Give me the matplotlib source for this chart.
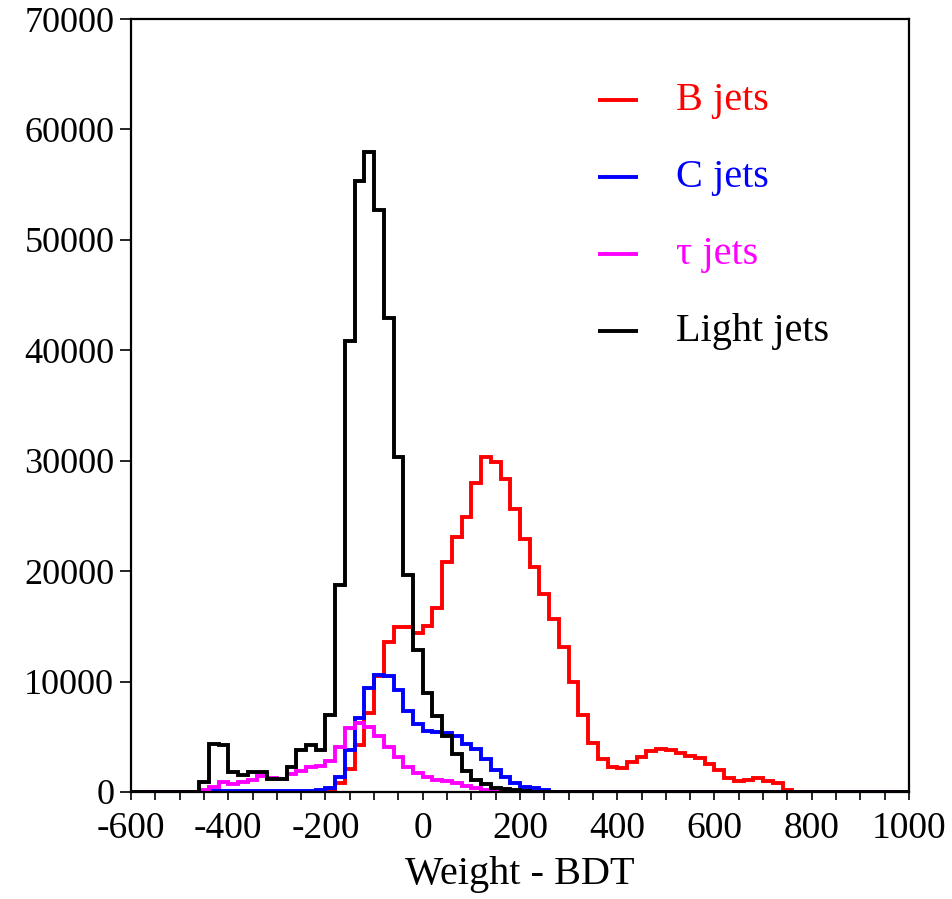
import numpy as np
import matplotlib
matplotlib.use("Agg")
import matplotlib.pyplot as plt
from matplotlib.ticker import MultipleLocator

# BDT weight histogram: 80 bins of width 20 between -600 and 1000
bin_edges = np.linspace(-600, 1000, 81)

b_jets = [
    0, 0, 0, 0, 0, 0, 0, 0, 0, 0,
    0, 0, 0, 0, 0, 0, 0, 0, 0, 0,
    120, 800, 2100, 4230, 7190, 10500, 13610, 14970, 14970, 14400,
    15000, 16700, 20800, 23120, 24870, 28010, 30300, 29880, 28310, 25600,
    22880, 20400, 17930, 15640, 13100, 9920, 6960, 4400, 3000, 2260,
    2200, 2690, 3140, 3740, 3890, 3800, 3500, 3260, 3050, 2510,
    1990, 1300, 1020, 1090, 1240, 1020, 790, 200, 0, 0,
    0, 0, 0, 0, 0, 0, 0, 0, 0, 0,
]

c_jets = [
    0, 0, 0, 0, 0, 0, 0, 0, 70, 70,
    70, 70, 70, 70, 70, 70, 70, 70, 70, 200,
    330, 1330, 3780, 6700, 9420, 10600, 10500, 9240, 7380, 6200,
    5520, 5450, 5300, 5070, 4380, 3850, 3000, 1990, 1360, 850,
    480, 330, 180, 0, 0, 0, 0, 0, 0, 0,
    0, 0, 0, 0, 0, 0, 0, 0, 0, 0,
    0, 0, 0, 0, 0, 0, 0, 0, 0, 0,
    0, 0, 0, 0, 0, 0, 0, 0, 0, 0,
]

tau_jets = [
    0, 0, 0, 0, 0, 0, 0, 150, 480, 870,
    690, 870, 1090, 1480, 1250, 1200, 1600, 1900, 2250, 2350,
    2780, 4050, 5820, 6220, 5900, 5050, 4100, 3140, 2250, 1700,
    1350, 1130, 980, 780, 520, 330, 180, 80, 40, 0,
    0, 0, 0, 0, 0, 0, 0, 0, 0, 0,
    0, 0, 0, 0, 0, 0, 0, 0, 0, 0,
    0, 0, 0, 0, 0, 0, 0, 0, 0, 0,
    0, 0, 0, 0, 0, 0, 0, 0, 0, 0,
]

light_jets = [
    0, 0, 0, 0, 0, 0, 0, 900, 4350, 4280,
    1840, 1580, 1840, 1800, 1200, 1200, 2250, 3830, 4260, 3780,
    6970, 18750, 40800, 55300, 58000, 52700, 42900, 30300, 19650, 12850,
    8940, 6850, 5040, 3400, 1900, 1090, 720, 400, 250, 180,
    60, 0, 0, 0, 0, 0, 0, 0, 0, 0,
    0, 0, 0, 0, 0, 0, 0, 0, 0, 0,
    0, 0, 0, 0, 0, 0, 0, 0, 0, 0,
    0, 0, 0, 0, 0, 0, 0, 0, 0, 0,
]

series = [
    ("B jets", b_jets, "#ff0000"),
    ("C jets", c_jets, "#0000ff"),
    ("\u03c4 jets", tau_jets, "#ff00ff"),
    ("Light jets", light_jets, "#000000"),
]

plt.rcParams["font.family"] = ["Liberation Serif", "DejaVu Serif"]
plt.rcParams["axes.unicode_minus"] = False

fig = plt.figure(figsize=(9.53, 8.99), dpi=100)
ax = fig.add_axes([131 / 953, 107 / 899, 778 / 953, 773 / 899])

for label, counts, color in series:
    ax.stairs(counts, bin_edges, color=color, linewidth=2.8, baseline=0)

ax.set_xlim(-600, 1000)
ax.set_ylim(0, 70000)

ax.xaxis.set_major_locator(MultipleLocator(200))
ax.xaxis.set_minor_locator(MultipleLocator(50))
ax.yaxis.set_major_locator(MultipleLocator(10000))
ax.tick_params(axis="both", which="both", direction="out", width=1.2,
               colors="black")
ax.tick_params(axis="x", which="both", length=6, pad=8, labelsize=27)
ax.tick_params(axis="y", which="major", length=8, pad=4, labelsize=26)
for side in ["left", "right", "top", "bottom"]:
    ax.spines[side].set_linewidth(1.6)

ax.set_xlabel("Weight - BDT", fontsize=29, labelpad=7)

# legend entries: short coloured line followed by a coloured label
for i, (label, counts, color) in enumerate(series):
    y = 0.895 - i * 0.0996
    ax.plot([0.600, 0.652], [y, y], transform=ax.transAxes, color=color,
            linewidth=2.8, solid_capstyle="butt")
    ax.text(0.700, y, label, transform=ax.transAxes, color=color,
            fontsize=29, va="center", ha="left")

fig.savefig("out.png", dpi=100)
